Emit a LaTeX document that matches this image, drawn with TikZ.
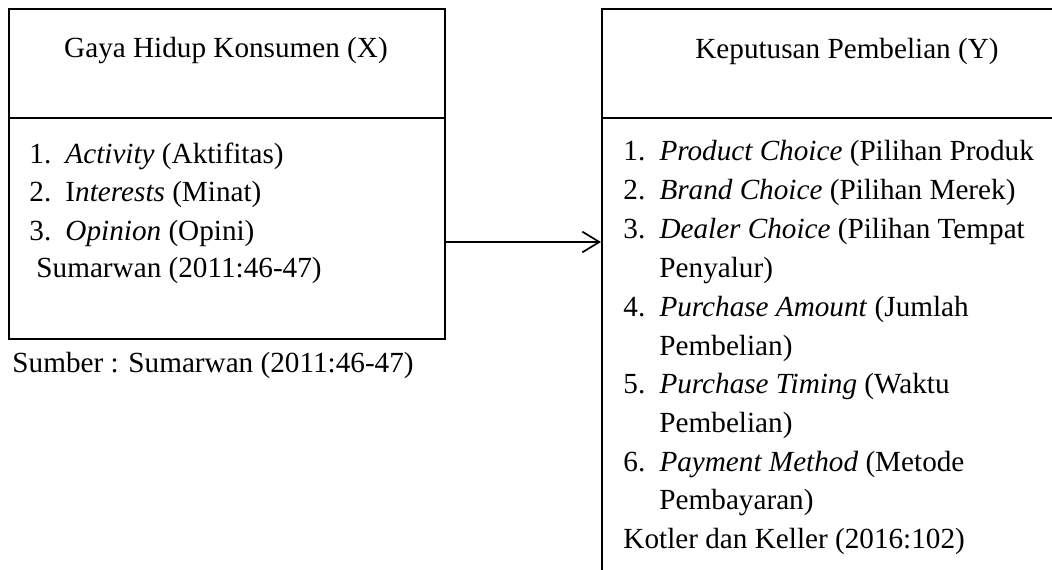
\documentclass[tikz,border=0pt]{standalone}
\usepackage{fontspec}
\setmainfont{Liberation Serif}
\usepackage{tikz}
\usetikzlibrary{arrows.meta, positioning}
\newcommand{\itm}[2]{\makebox[0pt][l]{#1}\hspace{14.8pt}#2}

\begin{document}
\begin{tikzpicture}[x=0.411pt, y=-0.411pt, every node/.style={font=\fontsize{12pt}{16pt}\selectfont, inner sep=0pt},
      panel/.style={draw=black, line width=0.7pt, anchor=north west, minimum width=179.2pt},
      txt/.style={anchor=base west},
      head/.style={anchor=base},
      ar/.style={-{Straight Barb[length=7pt, width=8.5pt]}, draw=black, line width=0.7pt}]
    \useasboundingbox (0,0) rectangle (1052,570);
    \clip (0,0) rectangle (1052,570);
    % left panel: Gaya Hidup Konsumen
    \node[panel, minimum height=44.8pt] (xbox) at (8,8) {};
    \node[panel, minimum height=90.8pt] (xbody) at (8,117) {};
    \node[head] (xh) at (226,58) {Gaya Hidup Konsumen (X)};
    \node[txt] (x1) at (29,164) {\itm{1.}{\textit{Activity} (Aktifitas)}};
    \node[txt] (x2) at (29,202) {\itm{2.}{I\textit{nterests} (Minat)}};
    \node[txt] (x3) at (29,240) {\itm{3.}{\textit{Opinion} (Opini)}};
    \node[txt] (xs) at (36,278) {Sumarwan (2011:46-47)};
    \node[txt] (src) at (12,372) {Sumber : Sumarwan (2011:46-47)};
    % right panel: Keputusan Pembelian
    \node[panel, minimum width=192.8pt, minimum height=44.8pt] (ybox) at (601,8) {};
    \node[panel, minimum width=192.8pt, minimum height=194.4pt] (ybody) at (601,117) {};
    \node[head] (yh) at (847,59) {Keputusan Pembelian (Y)};
    \node[txt] (y1) at (623,161) {\itm{1.}{\textit{Product Choice} (Pilihan Produk}};
    \node[txt] (y2) at (623,200) {\itm{2.}{\textit{Brand Choice} (Pilihan Merek)}};
    \node[txt] (y3) at (623,239) {\itm{3.}{\textit{Dealer Choice} (Pilihan Tempat}};
    \node[txt] (y3b) at (659,277) {Penyalur)};
    \node[txt] (y4) at (623,316) {\itm{4.}{\textit{Purchase Amount} (Jumlah}};
    \node[txt] (y4b) at (659,355) {Pembelian)};
    \node[txt] (y5) at (623,393) {\itm{5.}{\textit{Purchase Timing} (Waktu}};
    \node[txt] (y5b) at (659,432) {Pembelian)};
    \node[txt] (y6) at (623,471) {\itm{6.}{\textit{Payment Method} (Metode}};
    \node[txt] (y6b) at (659,509) {Pembayaran)};
    \node[txt] (ys) at (623,548) {Kotler dan Keller (2016:102)};
    \coordinate (yi) at (601,242);
    \draw[ar] (xbody.east |- yi) -- (yi);
  \end{tikzpicture}
\end{document}
